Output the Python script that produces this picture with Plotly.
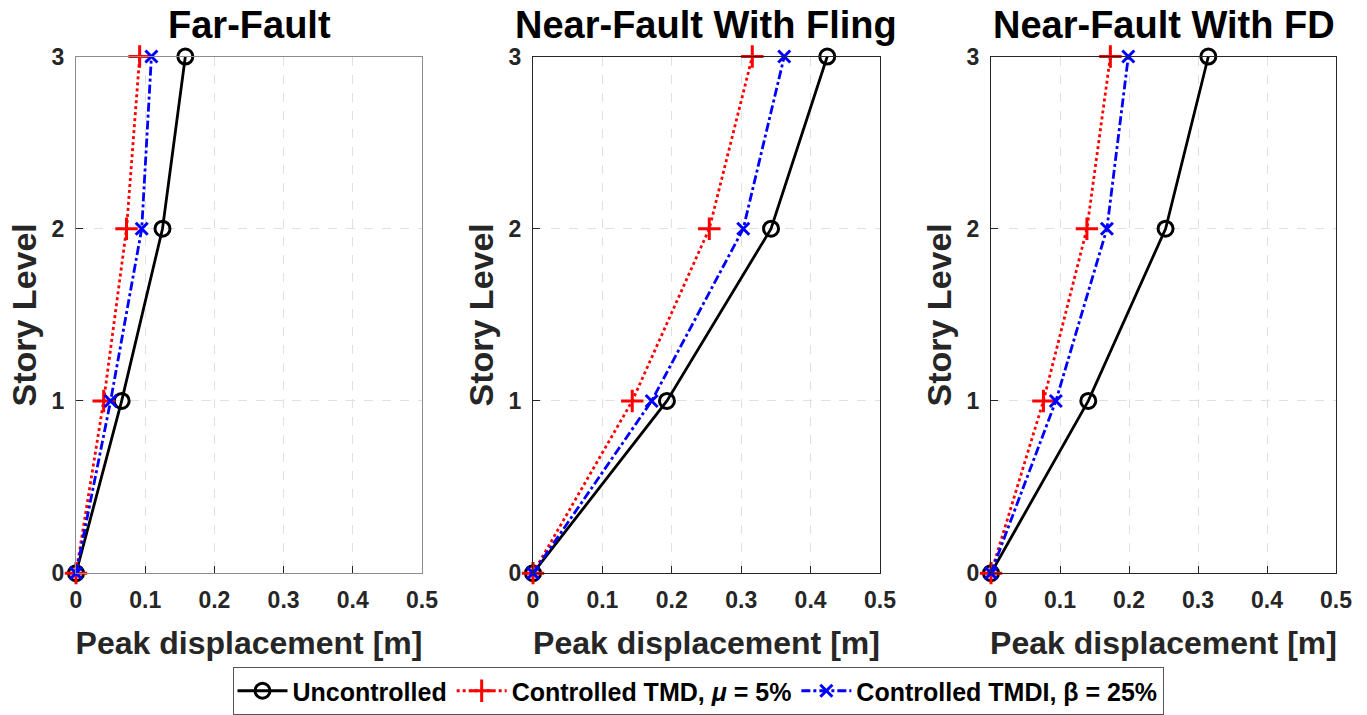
import plotly.graph_objects as go

# Story levels and peak displacements [m]
story = [0, 1, 2, 3]

far_unc = [0, 0.066, 0.125, 0.158]
far_tmd = [0, 0.040, 0.073, 0.092]
far_tmdi = [0, 0.050, 0.095, 0.109]

fling_unc = [0, 0.193, 0.343, 0.424]
fling_tmd = [0, 0.143, 0.254, 0.316]
fling_tmdi = [0, 0.171, 0.303, 0.362]

fd_unc = [0, 0.141, 0.253, 0.315]
fd_tmd = [0, 0.076, 0.139, 0.173]
fd_tmdi = [0, 0.094, 0.168, 0.199]

panel_titles = ["Far-Fault", "Near-Fault With Fling", "Near-Fault With FD"]
series_names = ["Uncontrolled", "Controlled TMD, <i>\u03bc</i> = 5%", "Controlled TMDI, \u03b2 = 25%"]
x_ticks = [0, 0.1, 0.2, 0.3, 0.4, 0.5]
x_tick_text = ["0", "0.1", "0.2", "0.3", "0.4", "0.5"]
y_ticks = [0, 1, 2, 3]

panels = [
    (far_unc, far_tmd, far_tmdi),
    (fling_unc, fling_tmd, fling_tmdi),
    (fd_unc, fd_tmd, fd_tmdi),
]

FONT = "Liberation Sans, Arial, sans-serif"
AX = "#262626"
W, H = 1367, 715

styles = [
    dict(color="black", dash="solid", symbol="circle-open", msize=15),
    dict(color="#ff0000", dash="dot", symbol="cross-thin", msize=16),
    dict(color="#0000ff", dash="dashdot", symbol="x-thin", msize=12),
]

x_domains = [(76 / W, 422 / W), (533 / W, 880 / W), (991 / W, 1336 / W)]
y_domain = (1 - 578 / H, 1 - 57 / H)
box_colors = ["#8c8c8c", AX, AX]

fig = go.Figure()

for i, series in enumerate(panels):
    ax = "" if i == 0 else str(i + 1)
    for j, (vals, st) in enumerate(zip(series, styles)):
        fig.add_trace(go.Scatter(
            x=vals, y=story,
            mode="lines+markers",
            name=series_names[j],
            legendgroup=str(j),
            showlegend=(i == 0),
            cliponaxis=False,
            line=dict(color=st["color"], dash=st["dash"], width=2.8),
            marker=dict(symbol=st["symbol"], size=st["msize"], color=st["color"],
                        line=dict(color=st["color"], width=3)),
            xaxis="x" + ax, yaxis="y" + ax,
        ))

    axis_common = dict(
        showline=True, mirror=True, linecolor=box_colors[i], linewidth=1.3,
        ticks="inside", ticklen=7, tickcolor=AX, tickwidth=1,
        showgrid=True, gridcolor="#e0e0e0", griddash="dash", gridwidth=1.2,
        zeroline=False, automargin=False,
        tickfont=dict(family=FONT, size=23, color=AX, weight="bold"),
    )
    fig.update_layout({
        "xaxis" + ax: dict(
            axis_common, domain=x_domains[i], range=[0, 0.5],
            tickvals=x_ticks, ticktext=x_tick_text,
            anchor="y" + ax, ticklabelstandoff=6,
            title=dict(text="Peak displacement [m]", standoff=19,
                       font=dict(family=FONT, size=32, color=AX, weight="bold")),
        ),
        "yaxis" + ax: dict(
            axis_common, domain=y_domain, range=[0, 3],
            tickvals=y_ticks, anchor="x" + ax, ticklabelstandoff=6,
            title=dict(text="Story Level", standoff=4,
                       font=dict(family=FONT, size=34, color=AX, weight="bold")),
        ),
    })
    fig.add_annotation(
        text=panel_titles[i], xref="paper", yref="paper",
        x=sum(x_domains[i]) / 2, y=1 - 25 / H,
        xanchor="center", yanchor="middle", showarrow=False,
        font=dict(family=FONT, size=38, color="black", weight="bold"),
    )

fig.update_layout(
    width=W, height=H,
    margin=dict(l=0, r=0, t=0, b=0),
    paper_bgcolor="white", plot_bgcolor="white",
    legend=dict(
        orientation="h", x=698 / W, y=1 - 697 / H, xanchor="center", yanchor="middle",
        bordercolor="#555555", borderwidth=1, bgcolor="white",
        font=dict(family=FONT, size=25, color="black", weight="bold"),
        tracegroupgap=0, itemwidth=50,
    ),
)

fig.write_html("out.html")
